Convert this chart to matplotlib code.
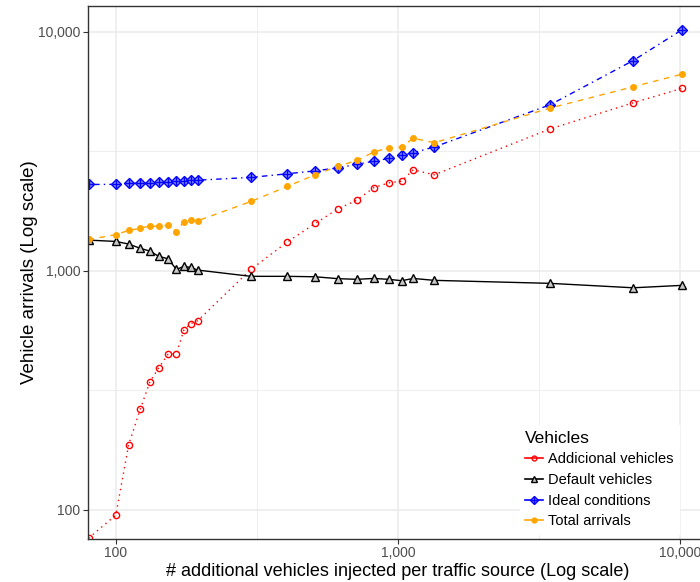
import matplotlib
matplotlib.use("Agg")
import matplotlib.pyplot as plt
from matplotlib.lines import Line2D

plt.rcParams['font.family'] = ['Liberation Sans', 'DejaVu Sans']

""" Data """
injected = [80, 100, 111, 122, 132, 142, 153, 164, 174, 184, 195,
            301, 405, 509, 613, 716, 820, 927, 1031, 1133, 1345,
            3467, 6825, 10160]

additional = [76, 95, 187, 263, 343, 393, 447, 450, 563, 600, 618,
              1013, 1319, 1578, 1815, 1976, 2225, 2334, 2371, 2646, 2522,
              3927, 5048, 5800]

default = [1344, 1327, 1294, 1242, 1209, 1149, 1123, 1013, 1043, 1033, 1007,
           948, 948, 944, 927, 921, 929, 921, 909, 929, 912,
           886, 849, 869]

ideal = [2298, 2300, 2322, 2330, 2340, 2350, 2360, 2370, 2380, 2390, 2395,
         2459, 2547, 2620, 2697, 2788, 2877, 2952, 3044, 3120, 3297,
         4955, 7585, 10200]

total = [1352, 1416, 1477, 1504, 1542, 1534, 1556, 1455, 1607, 1624, 1619,
         1950, 2254, 2522, 2740, 2896, 3140, 3271, 3296, 3590, 3433,
         4800, 5890, 6653]

major_ticks = [100, 1000, 10000]
tick_labels = ["100", "1,000", "10,000"]
minor_ticks = [316.2, 3162.3]

""" Plot """
fig = plt.figure(figsize=(7, 5.82), dpi=100)
ax = fig.add_axes([0.126, 0.0745, 0.884, 0.9155])

lw = 1.0
ax.plot(injected, additional, color="red", lw=lw, ls=(0, (1, 3)),
        marker="o", ms=4.5, mfc="none", mec="red", mew=1.0)
ax.plot(injected, default, color="black", lw=lw, ls="-",
        marker="^", ms=6, mfc="#C8C8C8", mec="black", mew=1.0)
ax.plot(injected, ideal, color="blue", lw=lw, ls=(0, (1, 3, 4, 3)),
        marker="D", ms=5.5, mfc="#9090FF", mec="blue", mew=1.0)
ax.plot(injected, ideal, ls="none", marker="+", ms=6, mec="blue", mew=1.0)
ax.plot(injected, total, color="orange", lw=lw, ls=(0, (4, 4)),
        marker="o", ms=4, mfc="orange", mec="orange")

ax.set_xscale("log")
ax.set_yscale("log")

ax.set_xticks(major_ticks)
ax.set_xticklabels(tick_labels)
ax.set_yticks(major_ticks)
ax.set_yticklabels(tick_labels)
ax.set_xticks(minor_ticks, minor=True)
ax.set_yticks(minor_ticks, minor=True)
ax.set_xticklabels([], minor=True)
ax.set_yticklabels([], minor=True)

# limits after ticks, so set_xticks does not widen them
ax.set_xlim(79.8, 12465)
ax.set_ylim(75.7, 12850)

ax.grid(which="major", color="#EBEBEB", lw=1.1)
ax.grid(which="minor", color="#EBEBEB", lw=0.6)
ax.set_axisbelow(True)
ax.tick_params(which="major", length=3.5, width=0.8, color="#333333",
               labelcolor="#4D4D4D", labelsize=10, pad=2)
ax.tick_params(which="minor", length=0)
for s in ax.spines.values():
    s.set_color("#333333")
    s.set_linewidth(1.0)

ax.set_xlabel("# additional vehicles injected per traffic source (Log scale)",
              fontsize=13, labelpad=2)
ax.set_ylabel("Vehicle arrivals (Log scale)", fontsize=13.5, labelpad=0)

# legend keys: solid lines with small markers
k_add = Line2D([], [], color="red", lw=1.2, marker="o", ms=3.5, mfc="none", mew=1.0)
k_def = Line2D([], [], color="black", lw=1.2, marker="^", ms=4.5, mfc="#C8C8C8", mew=1.0)
k_ide = (Line2D([], [], color="blue", lw=1.2, marker="D", ms=4, mfc="#9090FF", mew=1.0),
         Line2D([], [], ls="none", color="blue", marker="+", ms=4.5, mew=1.0))
k_tot = Line2D([], [], color="orange", lw=1.2, marker="o", ms=3.5)
handles = [k_add, k_def, k_ide, k_tot]
labels = ["Addicional vehicles", "Default vehicles", "Ideal conditions", "Total arrivals"]
leg = ax.legend(handles, labels, title="Vehicles", loc="lower right",
                bbox_to_anchor=(0.967, -0.005), fontsize=10.5, title_fontsize=12.5,
                frameon=True, facecolor="white", edgecolor="white", framealpha=1,
                handlelength=1.2, handletextpad=0.35, labelspacing=0.45,
                borderpad=0.4, fancybox=False)
leg._legend_box.align = "left"

fig.savefig("out.png", dpi=100)
